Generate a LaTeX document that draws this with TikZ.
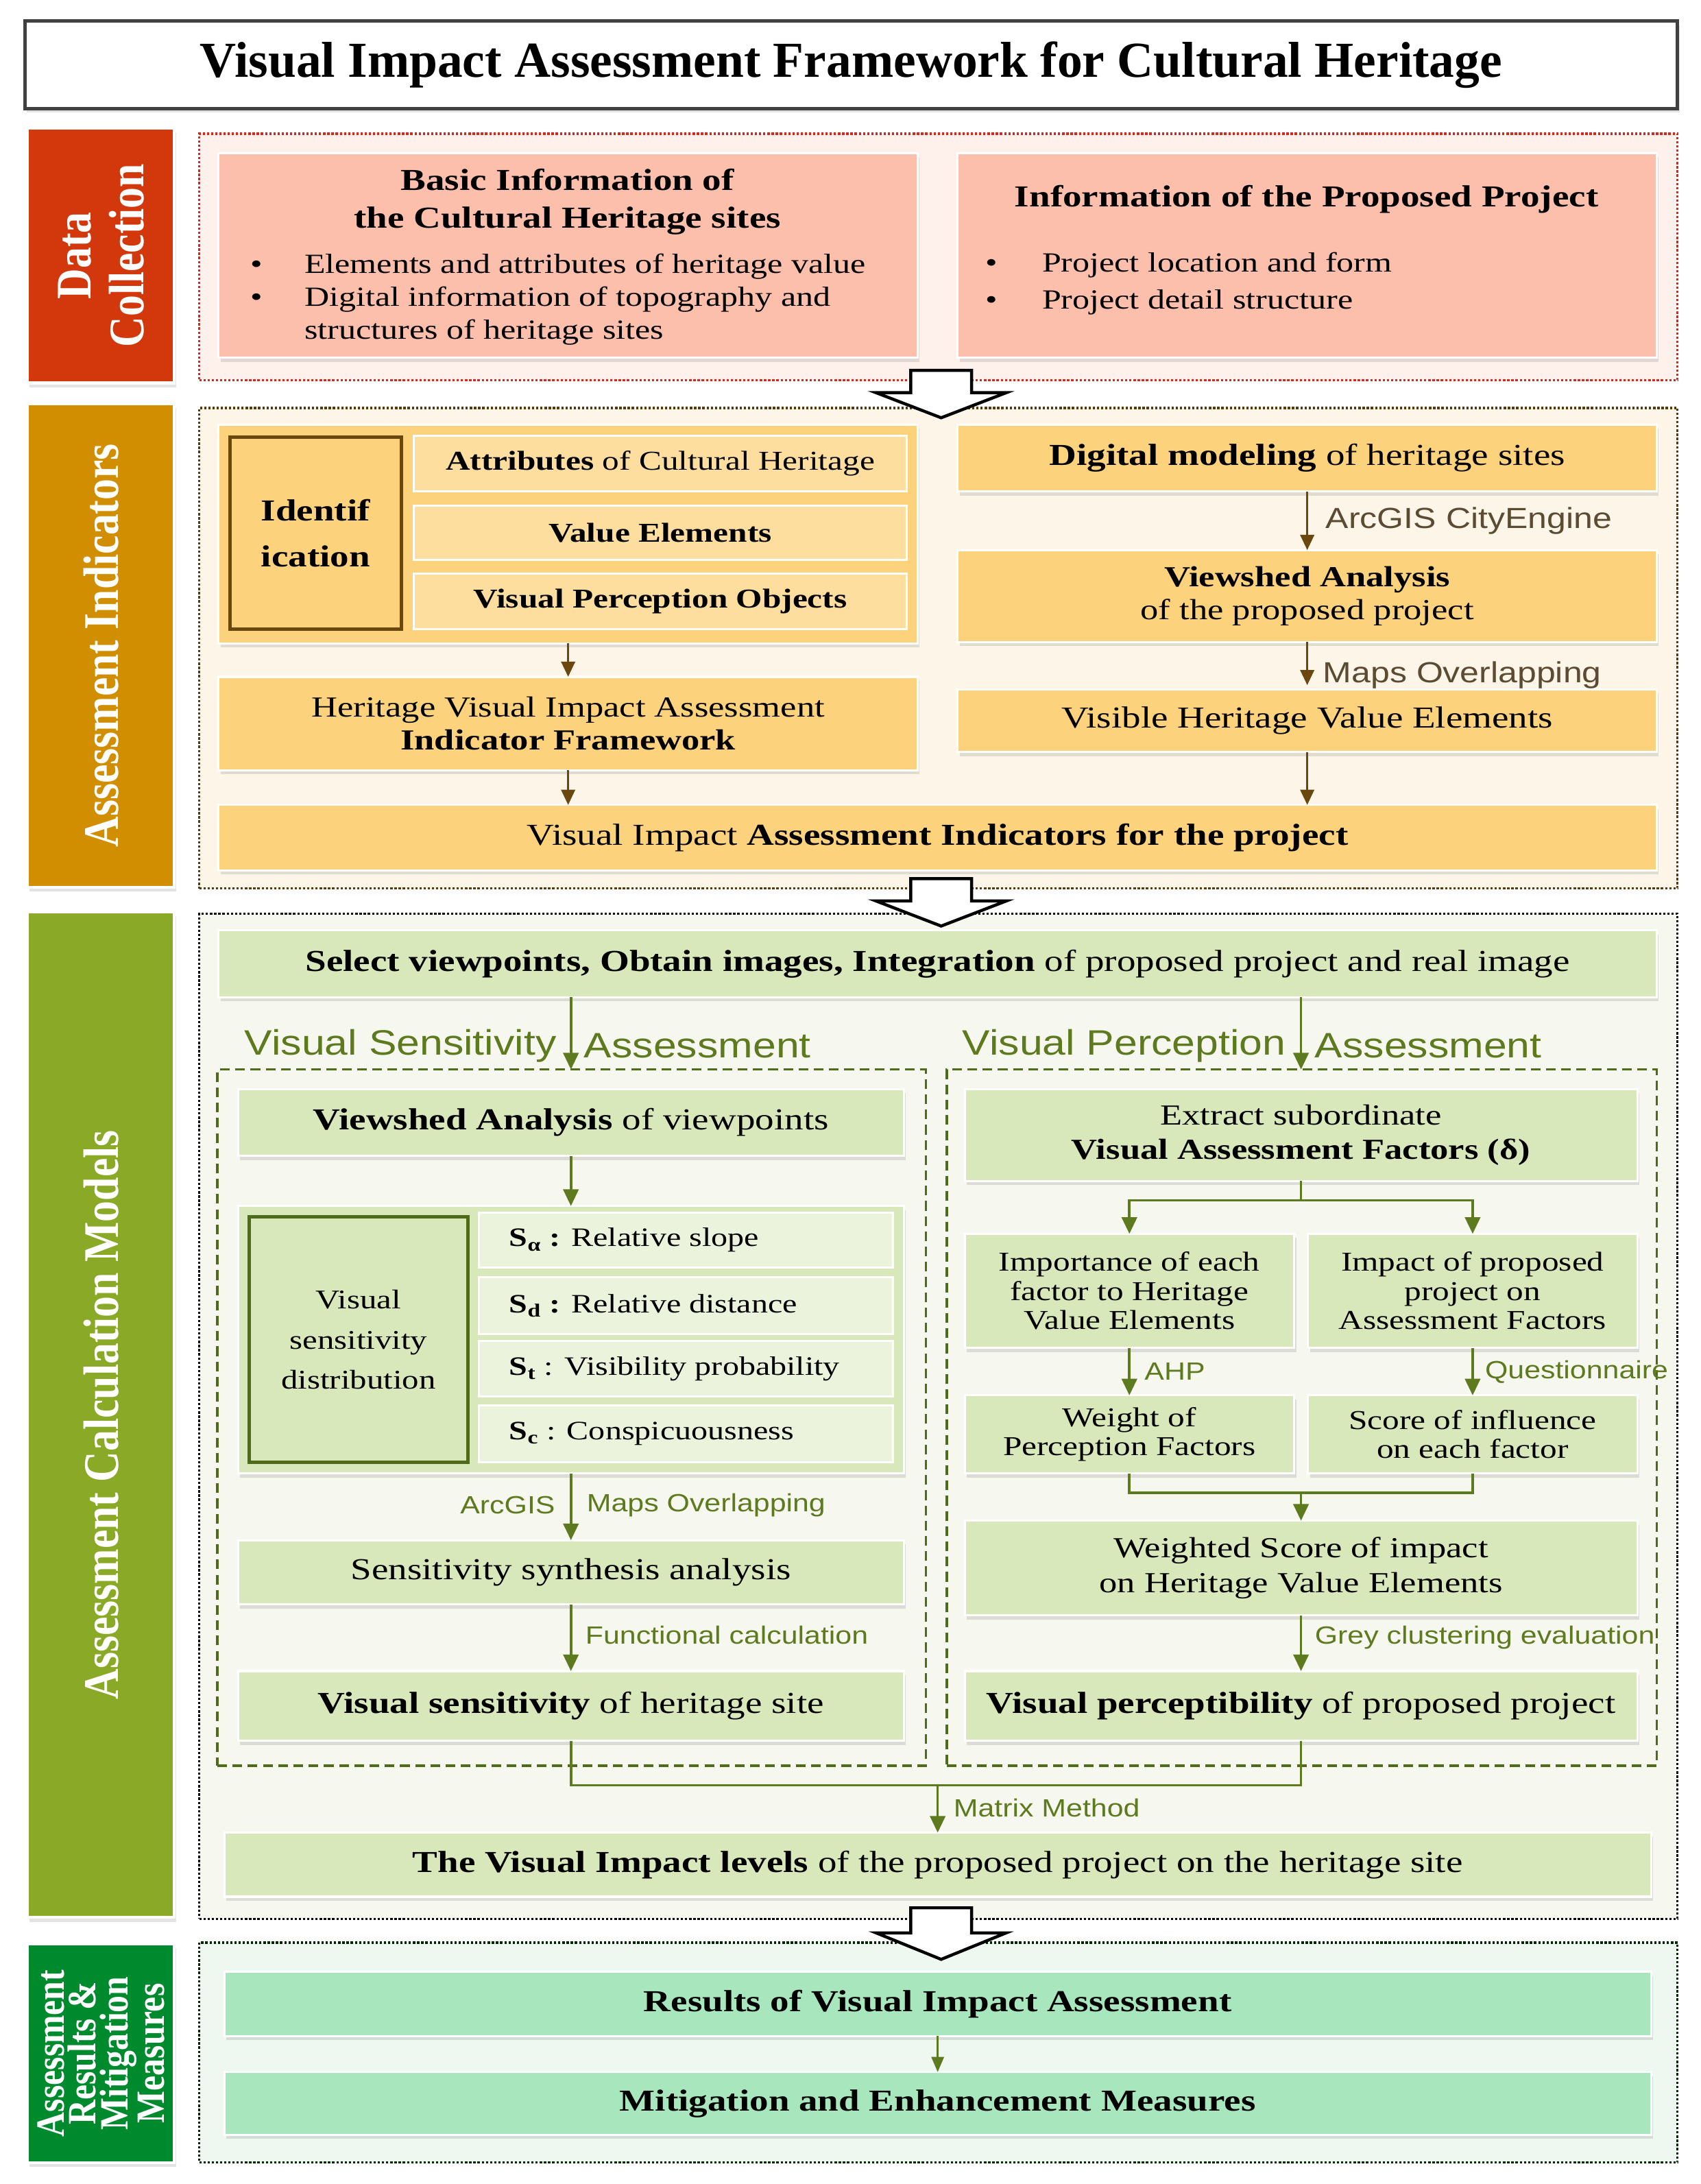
\documentclass[tikz,border=0pt]{standalone}
\usepackage{fontspec}
\setmainfont{Liberation Serif}[FakeStretch=1.24]
\setsansfont{Liberation Sans}[FakeStretch=1.18]
\newfontfamily\titlefont{Liberation Serif}
\newfontfamily\sidefont{Liberation Serif}[FakeStretch=0.85]
\usetikzlibrary{arrows.meta,shadows,calc}
\definecolor{redbar}{HTML}{D2380C}
\definecolor{redsec}{HTML}{FEF0EB}
\definecolor{redbox}{HTML}{FBBFAB}
\definecolor{reddot}{HTML}{D9261C}
\definecolor{orbar}{HTML}{D18E00}
\definecolor{orsec}{HTML}{FDF6E8}
\definecolor{orbox}{HTML}{FDD27C}
\definecolor{orlite}{HTML}{FDDE9E}
\definecolor{brownA}{HTML}{6B4710}
\definecolor{lblbrown}{HTML}{5A4B32}
\definecolor{gbar}{HTML}{8AAA27}
\definecolor{gsec}{HTML}{F6F7EF}
\definecolor{gbox}{HTML}{D9E8BA}
\definecolor{glite}{HTML}{EBF3DC}
\definecolor{oliveA}{HTML}{5E7A1E}
\definecolor{gdark}{HTML}{4F6A18}
\definecolor{dgbar}{HTML}{008A2E}
\definecolor{dgsec}{HTML}{EEF8F0}
\definecolor{dgbox}{HTML}{A8E7BD}
\newcommand\nd[7]{\node[anchor=north west,#6,minimum width=\fpeval{#4-#2}pt,minimum height=\fpeval{1.006*(#5-#3)}pt] (#1) at (#2,#3) {#7};}
\begin{document}
\begin{tikzpicture}[x=1pt,y=-1.006pt,
  every node/.style={inner sep=0pt,outer sep=0pt},
  bx/.style={rectangle,draw=white,line width=1.5pt,align=center,font=\fontsize{21}{24}\selectfont,
    drop shadow={shadow xshift=1.5pt,shadow yshift=-3pt,opacity=0.22}},
  inbx/.style={rectangle,draw=white,line width=1.5pt,align=center,font=\fontsize{21}{24}\selectfont},
  sec/.style={rectangle,line width=1.6pt,dash pattern=on 1.6pt off 1.4pt},
  dsec/.style={rectangle,draw=gdark,line width=1.8pt,dash pattern=on 7pt off 4pt},
  sbtxt/.style={rotate=90,text=white,align=center,font=\sidefont\bfseries\fontsize{36}{38}\selectfont},
  arrB/.style={draw=brownA,line width=1.6pt,-{Triangle[width=10pt,length=11pt]}},
  arrG/.style={draw=oliveA,line width=1.8pt,-{Triangle[width=11pt,length=12pt]}},
  lnG/.style={draw=oliveA,line width=1.8pt},
  lblB/.style={anchor=west,font=\sffamily\fontsize{21}{24}\selectfont,text=lblbrown},
  lblG/.style={anchor=west,font=\sffamily\fontsize{18}{22}\selectfont,text=oliveA},
  sttl/.style={font=\sffamily\fontsize{25.5}{30}\selectfont,text=oliveA},
  stxt/.style={anchor=west,font=\fontsize{19.2}{24}\selectfont},
  hollow/.style={draw=black,line width=2.2pt,fill=white,line join=miter},
]
\useasboundingbox[fill=white] (0pt,0pt) rectangle (1229pt,-1577.75pt);

% ---------- title ----------
\nd{title}{18}{15}{1212}{78}{bx,draw=black!75,line width=2.5pt,fill=white}{\titlefont\bfseries\fontsize{36.4}{40}\selectfont Visual Impact Assessment Framework for Cultural Heritage}

% ---------- section frames ----------
\nd{sec1}{144}{96}{1212}{273}{sec,draw=reddot,fill=redsec}{}
\nd{sec2}{144}{293}{1212}{638}{sec,draw=brownA!80!black,fill=orsec}{}
\nd{sec3}{144}{656}{1212}{1378}{sec,draw=black,fill=gsec}{}
\nd{sec4}{144}{1395}{1212}{1553}{sec,draw=black!85!green,fill=dgsec}{}

% ---------- side bars ----------
\nd{sb1}{20}{92}{126}{275}{bx,draw=white,line width=2pt,fill=redbar}{}
\nd{sb2}{20}{290}{126}{637}{bx,draw=white,line width=2pt,fill=orbar}{}
\nd{sb3}{20}{655}{126}{1377}{bx,draw=white,line width=2pt,fill=gbar}{}
\nd{sb4}{20}{1396}{126}{1553}{bx,draw=white,line width=2pt,fill=dgbar}{}
\node[sbtxt] (sb1t) at (sb1.center) {Data\\Collection};
\node[sbtxt] (sb2t) at (sb2.center) {Assessment Indicators};
\node[sbtxt] (sb3t) at (sb3.center) {Assessment Calculation Models};
\node[sbtxt,font=\sidefont\bfseries\fontsize{29}{23}\selectfont] (sb4t) at (sb4.center) {Assessment\\Results \&\\Mitigation\\Measures};

% ---------- hollow arrows ----------
\draw[hollow] (658,266) -- (702,266) -- (702,282) -- (727,282) -- (680,300) -- (633,282) -- (658,282) -- cycle;
\draw[hollow] (658,631) -- (702,631) -- (702,647) -- (727,647) -- (680,665) -- (633,647) -- (658,647) -- cycle;
\draw[hollow] (658,1370) -- (702,1370) -- (702,1388) -- (727,1388) -- (680,1407) -- (633,1388) -- (658,1388) -- cycle;

% ---------- Data collection ----------
\nd{dc1}{158}{110}{663}{257}{bx,fill=redbox}{}
\nd{dc2}{692}{110}{1197}{257}{bx,fill=redbox}{}
\node[align=center,font=\bfseries\fontsize{22}{27}\selectfont] (dc1t) at (410,145) {Basic Information of\\the Cultural Heritage sites};
\node[anchor=north west,align=left,font=\fontsize{20}{24}\selectfont] (dc1b) at (181,182) {\makebox[39pt][l]{•}Elements and attributes of heritage value\\\makebox[39pt][l]{•}Digital information of topography and\\\hspace*{39pt}structures of heritage sites};
\node[font=\bfseries\fontsize{22}{27}\selectfont] (dc2t) at (944,143) {Information of the Proposed Project};
\node[anchor=north west,align=left,font=\fontsize{20}{27}\selectfont] (dc2b) at (712,181) {\makebox[41pt][l]{•}Project location and form\\\makebox[41pt][l]{•}Project detail structure};

% ---------- Assessment indicators ----------
\nd{idg}{158}{305}{663}{462}{bx,fill=orbox}{}
\nd{idn}{166}{314}{290}{452}{rectangle,draw=brownA,line width=2.5pt,fill=orbox,align=center,font=\bfseries\fontsize{22}{33}\selectfont}{Identif\\ication}
\nd{a1}{299}{313}{655}{353}{inbx,fill=orlite,font=\fontsize{19.7}{24}\selectfont}{\textbf{Attributes} of Cultural Heritage}
\nd{a2}{299}{363}{655}{402}{inbx,fill=orlite,font=\bfseries\fontsize{19.7}{24}\selectfont}{Value Elements}
\nd{a3}{299}{412}{655}{452}{inbx,fill=orlite,font=\bfseries\fontsize{19.7}{24}\selectfont}{Visual Perception Objects}
\nd{hvf}{158}{486}{663}{553}{bx,fill=orbox}{Heritage Visual Impact Assessment\\\textbf{Indicator Framework}}
\nd{via}{158}{578}{1197}{625}{bx,fill=orbox,font=\fontsize{22}{26}\selectfont}{Visual Impact \textbf{Assessment Indicators for the project}}
\nd{dm}{692}{305}{1197}{353}{bx,fill=orbox,font=\fontsize{22}{26}\selectfont}{\textbf{Digital modeling} of heritage sites}
\nd{va}{692}{395}{1197}{461}{bx,fill=orbox}{\textbf{Viewshed Analysis}\\of the proposed project}
\nd{vh}{692}{495}{1197}{540}{bx,fill=orbox,font=\fontsize{22}{26}\selectfont}{Visible Heritage Value Elements}

\draw[arrB] (idg.south) -- (hvf.north);
\draw[arrB] (hvf.south) -- (via.north -| hvf.south);
\draw[arrB] (dm.south) -- (va.north);
\draw[arrB] (va.south) -- ([yshift=3pt]vh.north);
\draw[arrB] (vh.south) -- (via.north -| vh.south);
\node[lblB] (l1) at (958,374) {ArcGIS CityEngine};
\node[lblB] (l2) at (956,485) {Maps Overlapping};

% ---------- Calculation models ----------
\nd{sel}{158}{668}{1197}{716}{bx,fill=gbox,font=\fontsize{22}{26}\selectfont}{\textbf{Select viewpoints, Obtain images, Integration} of proposed project and real image}
\nd{lf}{157}{768}{669}{1268}{dsec}{}
\nd{rf}{684}{768}{1197}{1268}{dsec}{}
\node[sttl,anchor=east] (st1a) at (402,751) {Visual Sensitivity};
\node[sttl,anchor=west] (st1b) at (422,751) {Assessment};
\node[sttl,anchor=east] (st2a) at (929,751) {Visual Perception};
\node[sttl,anchor=west] (st2b) at (950,751) {Assessment};

% left column
\nd{vsv}{172}{782}{653}{830}{bx,fill=gbox,font=\fontsize{22}{26}\selectfont}{\textbf{Viewshed Analysis} of viewpoints}
\nd{grp}{172}{866}{653}{1058}{bx,fill=gbox}{}
\nd{vsd}{180}{874}{338}{1050}{rectangle,draw=gdark,line width=2.5pt,fill=gbox,align=center,font=\fontsize{19.5}{29}\selectfont}{Visual\\sensitivity\\distribution}
\nd{s1}{346}{871}{645}{910}{inbx,fill=glite}{}
\nd{s2}{346}{917}{645}{958}{inbx,fill=glite}{}
\nd{s3}{346}{963}{645}{1003}{inbx,fill=glite}{}
\nd{s4}{346}{1009}{645}{1050}{inbx,fill=glite}{}
\node[stxt] (s1t) at ([xshift=22pt]s1.west) {\textbf{S\textsubscript{α} :} Relative slope};
\node[stxt] (s2t) at ([xshift=22pt]s2.west) {\textbf{S\textsubscript{d} :} Relative distance};
\node[stxt] (s3t) at ([xshift=22pt]s3.west) {\textbf{S\textsubscript{t}} : Visibility probability};
\node[stxt] (s4t) at ([xshift=22pt]s4.west) {\textbf{S\textsubscript{c}} : Conspicuousness};
\nd{ssa}{172}{1106}{653}{1152}{bx,fill=gbox,font=\fontsize{22}{26}\selectfont}{Sensitivity synthesis analysis}
\nd{vsh}{172}{1200}{653}{1250}{bx,fill=gbox,font=\fontsize{22}{26}\selectfont}{\textbf{Visual sensitivity} of heritage site}

% right column
\nd{esf}{697}{782}{1183}{848}{bx,fill=gbox,font=\fontsize{21}{25}\selectfont}{Extract subordinate\\\textbf{Visual Assessment Factors (δ)}}
\nd{imp1}{697}{886}{935}{968}{bx,fill=gbox,font=\fontsize{19.7}{21}\selectfont}{Importance of each\\factor to Heritage\\Value Elements}
\nd{imp2}{945}{886}{1183}{968}{bx,fill=gbox,font=\fontsize{19.7}{21}\selectfont}{Impact of proposed\\project on\\Assessment Factors}
\nd{w1}{697}{1002}{935}{1058}{bx,fill=gbox,font=\fontsize{19.7}{21}\selectfont}{Weight of\\Perception Factors}
\nd{w2}{945}{1002}{1183}{1058}{bx,fill=gbox,font=\fontsize{19.7}{21}\selectfont}{Score of influence\\on each factor}
\nd{wsi}{697}{1092}{1183}{1160}{bx,fill=gbox,font=\fontsize{21}{25}\selectfont}{Weighted Score of impact\\on Heritage Value Elements}
\nd{vpp}{697}{1200}{1183}{1250}{bx,fill=gbox,font=\fontsize{22}{26}\selectfont}{\textbf{Visual perceptibility} of proposed project}
\nd{vil}{162}{1316}{1193}{1362}{bx,fill=gbox,font=\fontsize{22}{26}\selectfont}{\textbf{The Visual Impact levels} of the proposed project on the heritage site}

% connectors (calculation)
\draw[arrG] (sel.south -| vsv.north) -- (lf.north -| vsv.north);
\draw[arrG] (sel.south -| esf.north) -- (rf.north -| esf.north);
\draw[arrG] (vsv.south) -- (grp.north);
\draw[arrG] (grp.south) -- (ssa.north);
\draw[arrG] (ssa.south) -- (vsh.north);
\coordinate (br) at (940,862);
\draw[lnG] (esf.south) -- (br);
\draw[arrG] (br) -| (imp1.north);
\draw[arrG] (br) -| (imp2.north);
\draw[arrG] (imp1.south) -- (w1.north);
\draw[arrG] (imp2.south) -- (w2.north);
\coordinate (mg) at (940,1072);
\draw[lnG] (w1.south) |- (mg);
\draw[lnG] (w2.south) |- (mg);
\draw[arrG] (mg) -- (wsi.north);
\draw[arrG] (wsi.south) -- (vpp.north);
\coordinate (fm) at (677.5,1282);
\draw[lnG] (vsh.south) |- (fm);
\draw[lnG] (vpp.south) |- (fm);
\draw[arrG] (fm) -- (vil.north);
\node[lblG,anchor=east] (l3) at (401,1081) {ArcGIS};
\node[lblG] (l4) at (424,1081) {Maps Overlapping};
\node[lblG] (l5) at (423,1174) {Functional calculation};
\node[lblG] (l6) at (827,985) {AHP};
\node[lblG] (l7) at (1073,985) {Questionnaire};
\node[lblG] (l8) at (950,1176) {Grey clustering evaluation};
\node[lblG] (l9) at (689,1298) {Matrix Method};

% ---------- Results ----------
\nd{r1}{162}{1416}{1193}{1462}{bx,fill=dgbox,font=\bfseries\fontsize{22}{26}\selectfont}{Results of Visual Impact Assessment}
\nd{r2}{162}{1488}{1193}{1533}{bx,fill=dgbox,font=\bfseries\fontsize{22}{26}\selectfont}{Mitigation and Enhancement Measures}
\draw[draw=oliveA,line width=1.3pt,-{Triangle[width=9pt,length=11pt]}] (r1.south) -- (r2.north);
\end{tikzpicture}
\end{document}
